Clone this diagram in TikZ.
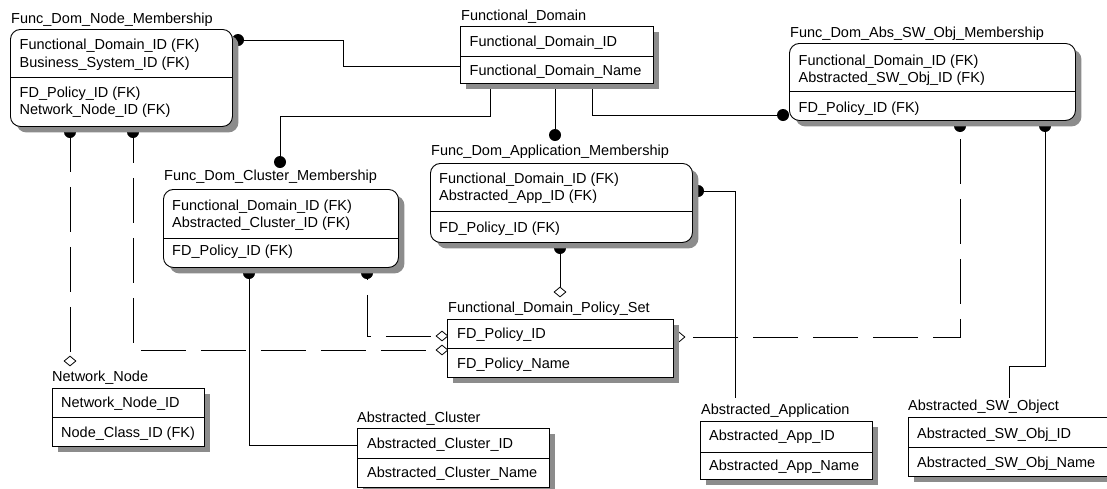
\documentclass[tikz,border=0pt]{standalone}
\usepackage{fontspec}
\setmainfont{Liberation Sans}
\usetikzlibrary{shadows,shapes.geometric}
\pgfdeclarelayer{conn}
\pgfsetlayers{conn,main}

\tikzset{
  ershadow/.style={drop shadow={shadow xshift=6pt,shadow yshift=-6pt,fill=black!45,opacity=1}},
  sqbox/.style={draw,line width=0.9pt,fill=white,anchor=north west,inner sep=0pt,ershadow},
  rndbox/.style={sqbox,rounded corners=10pt},
  etitle/.style={anchor=base west,inner sep=0pt,font=\fontsize{14.5}{17}\selectfont},
  erow/.style={etitle},
  divline/.style={line width=0.9pt},
  link/.style={line width=0.8pt},
  dlink/.style={link,dash pattern=on 45pt off 15pt},
  erdiam/.style={diamond,draw,fill=white,line width=0.8pt,inner sep=0pt,minimum width=12pt,minimum height=10pt},
}

\begin{document}
\begin{tikzpicture}[x=1pt,y=-1pt]
\useasboundingbox (0,0) rectangle (1107,488);

% ---------- Func_Dom_Node_Membership ----------
\node[rndbox,minimum width=222pt,minimum height=97pt] (fdnm) at (10,29) {};
\draw[divline] (fdnm.west |- 0,77) -- (fdnm.east |- 0,77);
\node[etitle] (fdnm-t) at (11,23) {Func\_Dom\_Node\_Membership};
\node[erow] (fdnm-r1) at (19.5,49) {Functional\_Domain\_ID (FK)};
\node[erow] (fdnm-r2) at (19.5,67) {Business\_System\_ID (FK)};
\node[erow] (fdnm-r3) at (19.5,97) {FD\_Policy\_ID (FK)};
\node[erow] (fdnm-r4) at (19.5,114) {Network\_Node\_ID (FK)};

% ---------- Functional_Domain ----------
\node[sqbox,minimum width=193pt,minimum height=57pt] (fd) at (460,26) {};
\draw[divline] (fd.west |- 0,56) -- (fd.east |- 0,56);
\node[etitle] (fd-t) at (461,20) {Functional\_Domain};
\node[erow] (fd-r1) at (469.5,46) {Functional\_Domain\_ID};
\node[erow] (fd-r2) at (469.5,75) {Functional\_Domain\_Name};

% ---------- Func_Dom_Abs_SW_Obj_Membership ----------
\node[rndbox,minimum width=286pt,minimum height=77pt] (fdasw) at (789,43) {};
\draw[divline] (fdasw.west |- 0,91) -- (fdasw.east |- 0,91);
\node[etitle] (fdasw-t) at (790,37) {Func\_Dom\_Abs\_SW\_Obj\_Membership};
\node[erow] (fdasw-r1) at (798.5,65) {Functional\_Domain\_ID (FK)};
\node[erow] (fdasw-r2) at (798.5,82) {Abstracted\_SW\_Obj\_ID (FK)};
\node[erow] (fdasw-r3) at (798.5,112) {FD\_Policy\_ID (FK)};

% ---------- Func_Dom_Cluster_Membership ----------
\node[rndbox,minimum width=235pt,minimum height=78pt] (fdcm) at (163,189) {};
\draw[divline] (fdcm.west |- 0,238) -- (fdcm.east |- 0,238);
\node[etitle] (fdcm-t) at (164,180) {Func\_Dom\_Cluster\_Membership};
\node[erow] (fdcm-r1) at (172,210) {Functional\_Domain\_ID (FK)};
\node[erow] (fdcm-r2) at (172,227) {Abstracted\_Cluster\_ID (FK)};
\node[erow] (fdcm-r3) at (172,255) {FD\_Policy\_ID (FK)};

% ---------- Func_Dom_Application_Membership ----------
\node[rndbox,minimum width=262pt,minimum height=79pt] (fdam) at (430,163) {};
\draw[divline] (fdam.west |- 0,211) -- (fdam.east |- 0,211);
\node[etitle] (fdam-t) at (431,155) {Func\_Dom\_Application\_Membership};
\node[erow] (fdam-r1) at (439,183) {Functional\_Domain\_ID (FK)};
\node[erow] (fdam-r2) at (439,200) {Abstracted\_App\_ID (FK)};
\node[erow] (fdam-r3) at (439,232) {FD\_Policy\_ID (FK)};

% ---------- Functional_Domain_Policy_Set ----------
\node[sqbox,minimum width=226pt,minimum height=58pt] (fdps) at (447,319) {};
\draw[divline] (fdps.west |- 0,348) -- (fdps.east |- 0,348);
\node[etitle] (fdps-t) at (448,312) {Functional\_Domain\_Policy\_Set};
\node[erow] (fdps-r1) at (457,338) {FD\_Policy\_ID};
\node[erow] (fdps-r2) at (457,368) {FD\_Policy\_Name};

% ---------- Network_Node ----------
\node[sqbox,minimum width=152pt,minimum height=58pt] (nn) at (52,388) {};
\draw[divline] (nn.west |- 0,417) -- (nn.east |- 0,417);
\node[etitle] (nn-t) at (52,381) {Network\_Node};
\node[erow] (nn-r1) at (61,407) {Network\_Node\_ID};
\node[erow] (nn-r2) at (61,437) {Node\_Class\_ID (FK)};

% ---------- Abstracted_Cluster ----------
\node[sqbox,minimum width=192pt,minimum height=59pt] (ac) at (357,428) {};
\draw[divline] (ac.west |- 0,458) -- (ac.east |- 0,458);
\node[etitle] (ac-t) at (357,422) {Abstracted\_Cluster};
\node[erow] (ac-r1) at (367,448) {Abstracted\_Cluster\_ID};
\node[erow] (ac-r2) at (367,477) {Abstracted\_Cluster\_Name};

% ---------- Abstracted_Application ----------
\node[sqbox,minimum width=172pt,minimum height=58pt] (aa) at (700,421) {};
\draw[divline] (aa.west |- 0,452) -- (aa.east |- 0,452);
\node[etitle] (aa-t) at (701,414) {Abstracted\_Application};
\node[erow] (aa-r1) at (709,440) {Abstracted\_App\_ID};
\node[erow] (aa-r2) at (709,470) {Abstracted\_App\_Name};

% ---------- Abstracted_SW_Object (runs past the right edge) ----------
\node[sqbox,minimum width=240pt,minimum height=59pt] (asw) at (908,417) {};
\draw[divline] (asw.west |- 0,447) -- (asw.east |- 0,447);
\node[etitle] (asw-t) at (908,410) {Abstracted\_SW\_Object};
\node[erow] (asw-r1) at (917,438) {Abstracted\_SW\_Obj\_ID};
\node[erow] (asw-r2) at (917,467) {Abstracted\_SW\_Obj\_Name};

% ---------- relationships (under the boxes and their shadows) ----------
\begin{pgfonlayer}{conn}
  % identifying relationships
  \draw[link] (fdnm.east |- 0,40) -- (343,40) -- (343,66) -- (fd.west |- 0,66);
  \fill (238,40) circle[radius=6pt];

  \draw[link] (fd.south -| 490,0) -- (490,116) -- (280,116) -- (280,162);
  \fill (280,162) circle[radius=6pt];

  \draw[link] (fd.south -| 555,0) -- (555,135);
  \fill (555,135) circle[radius=6pt];

  \draw[link] (fd.south -| 592,0) -- (592,115) -- (fdasw.west |- 0,115);
  \fill (783,115) circle[radius=6pt];

  \coordinate (aa-in) at (735,398);
  \draw[link] (fdam.east |- 0,191) -- (735,191) -- (aa-in);
  \fill (698,191) circle[radius=6pt];

  \draw[link] (fdcm.south -| 249,0) -- (249,445) -- (ac.west |- 0,445);
  \fill (249,273) circle[radius=6pt];

  \coordinate (asw-in) at (1009,398);
  \draw[link] (fdasw.south -| 1045,0) -- (1045,366) -- (1009,366) -- (asw-in);
  \fill (1045,126) circle[radius=6pt];

  % non-identifying relationships to the policy set and the network node
  \draw[link] (fdam.south -| 560,0) -- (560,287);
  \fill (560,248) circle[radius=6pt];
  \node[erdiam] (dm-app) at (560,292) {};

  \draw[dlink,dash phase=0pt] (fdnm.south -| 70,0) -- (70,355);
  \fill (70,132) circle[radius=6pt];
  \node[erdiam] (dm-nn) at (70,361) {};

  \draw[dlink,dash phase=9pt] (fdnm.south -| 133,0) -- (133,350) -- (436,350);
  \fill (133,132) circle[radius=6pt];
  \node[erdiam] (dm-nm) at (442,350) {};

  \draw[dlink,dash phase=33pt] (fdcm.south -| 367,0) -- (367,336) -- (436,336);
  \fill (367,273) circle[radius=6pt];
  \node[erdiam] (dm-cl) at (442,336) {};

  \draw[dlink,dash phase=42pt] (fdasw.south -| 960,0) -- (960,337) -- (685,337);
  \fill (960,126) circle[radius=6pt];
  \node[erdiam] (dm-sw) at (679,337) {};
\end{pgfonlayer}
\end{tikzpicture}
\end{document}
